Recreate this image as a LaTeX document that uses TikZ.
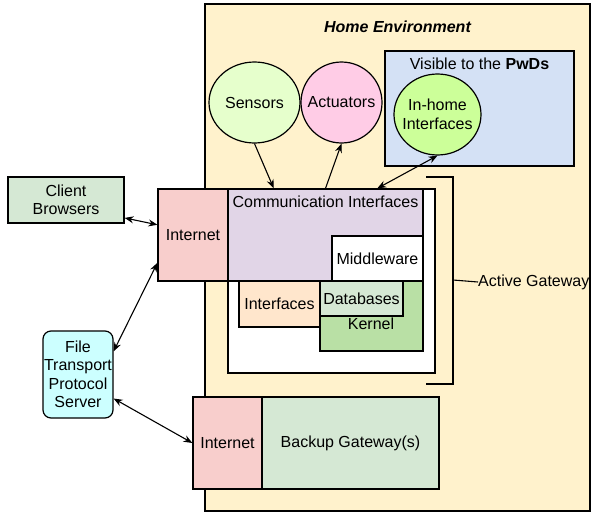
\documentclass[tikz,border=0pt]{standalone}
\usepackage{fontspec}
\setmainfont{Liberation Sans}
\usetikzlibrary{shapes.geometric,arrows.meta}

\definecolor{homefill}{HTML}{FFF2CC}
\definecolor{visfill}{HTML}{D4E1F5}
\definecolor{sensfill}{HTML}{E6FFCC}
\definecolor{actfill}{HTML}{FFCCE6}
\definecolor{inhomefill}{HTML}{CCFF99}
\definecolor{greenfill}{HTML}{D5E8D4}
\definecolor{netfill}{HTML}{F8CECC}
\definecolor{commfill}{HTML}{E1D5E7}
\definecolor{ifcfill}{HTML}{FFE6CC}
\definecolor{kernfill}{HTML}{B9E0A5}
\definecolor{ftpfill}{HTML}{CCFFFF}

\begin{document}
\begin{tikzpicture}[x=1pt,y=-1pt,
    font=\fontsize{16}{18.5}\selectfont,
    box/.style={draw,line width=1.2pt,inner sep=2pt,align=center},
    blob/.style={draw,ellipse,line width=1.2pt,inner sep=-12pt,align=center},
    tip/.tip={Stealth[length=9pt,width=7pt,inset=3pt]},
    link/.style={line width=1.1pt,-tip},
    twoway/.style={line width=1.1pt,tip-tip}]
    \useasboundingbox (0,0) rectangle (592,514);

    % home environment
    \node[box,fill=homefill,minimum width=385,minimum height=507,
      label={[anchor=north,yshift=-14pt,font=\fontsize{16}{18.5}\selectfont\bfseries\itshape]north:Home Environment}]
      (home) at (397.5,257.5) {};
    \node[box,fill=visfill,minimum width=189,minimum height=115,
      label={[anchor=north,yshift=-4pt]north:Visible to the \textbf{PwDs}}]
      (visible) at (479.5,108.5) {};
    \node[blob,fill=sensfill,minimum width=91,minimum height=81] (sens) at (254.5,102.5) {Sensors};
    \node[blob,fill=actfill,minimum width=81,minimum height=81] (act) at (341.5,102.5) {Actuators};
    \node[blob,fill=inhomefill,minimum width=87,minimum height=81] (inhome) at (437.5,114.5) {In-home\\Interfaces};

    % active gateway
    \node[box,fill=white,minimum width=207,minimum height=184] (gw) at (331.5,281) {};
    \node[box,fill=commfill,minimum width=195,minimum height=92,
      label={[anchor=north,yshift=-4pt]north:Communication Interfaces}]
      (comm) at (325.5,235) {};
    \node[box,fill=white,minimum width=91,minimum height=45] (mw) at (377.5,258.5) {Middleware};
    \node[box,fill=netfill,minimum width=70,minimum height=92] (inet) at (193,235) {Internet};
    \node[box,fill=ifcfill,minimum width=81,minimum height=46] (ifc) at (279.5,304) {Interfaces};
    \node[box,fill=kernfill,minimum width=103,minimum height=70] (kern) at (371.5,316) {};
    \node (kerntext) at (371,324) {Kernel};
    \node[box,fill=greenfill,minimum width=83,minimum height=35] (db) at (361.5,298.5) {Databases};

    \draw[line width=1.2pt] (426,177) -- (453,177) -- (453,384) -- (426,384);
    \node[anchor=west,inner sep=0pt] (ag) at (478,282) {Active Gateway};
    \draw[line width=1.1pt] (453,280) -- (ag.west);

    % outside
    \node[box,fill=greenfill,minimum width=116,minimum height=46] (cb) at (66,200) {Client\\Browsers};
    \node[box,fill=ftpfill,rounded corners=8pt,minimum width=70,minimum height=87,inner sep=0pt]
      (ftp) at (78,374.5) {File\\Transport\\Protocol\\Server};

    % backup
    \node[box,fill=netfill,minimum width=69,minimum height=92] (binet) at (227.5,443) {Internet};
    \node[box,fill=greenfill,minimum width=177,minimum height=92] (bgw) at (350.5,443) {Backup Gateway(s)};

    % links
    \draw[twoway] (cb.-17) -- (inet.164);
    \draw[twoway] (ftp.33) -- (inet.218);
    \draw[twoway] (ftp.-34) -- (binet.west);
    \draw[link] (sens.south) -- (comm.138);
    \draw[link] (comm.north) -- (act.south);
    \draw[twoway] (comm.42) -- (inhome.south);
  \end{tikzpicture}
\end{document}
